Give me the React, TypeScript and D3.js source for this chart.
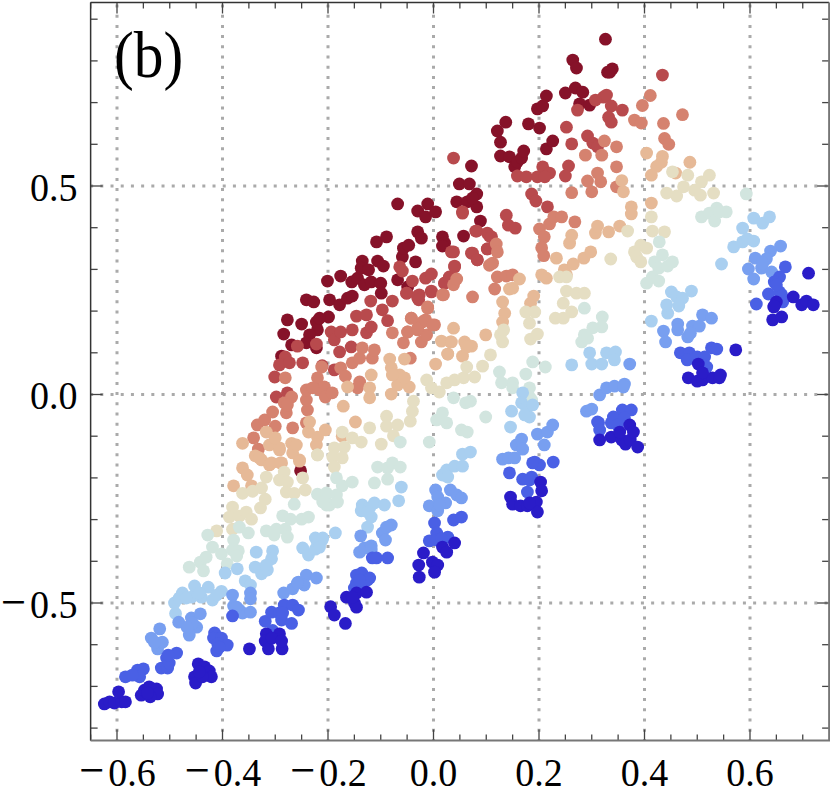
import React from "react";
import * as d3 from "d3";

type Chunk = [number[], number[]];

const darkRed: Chunk[] = [
  [[-0.252,-0.277,-0.250,-0.241,-0.227,-0.284,-0.269,-0.288,-0.222,-0.220,-0.235,-0.241,-0.222,-0.199,-0.216,-0.197,-0.178,-0.163,-0.154],
   [-0.183,0.179,0.169,0.227,0.222,0.145,0.119,0.092,0.174,0.155,0.143,0.124,0.112,0.186,0.183,0.227,0.215,0.231,0.236]],
  [[-0.201,-0.176,-0.155,-0.144,-0.131,-0.118,-0.100,-0.099,-0.135,-0.137,-0.123,-0.106,-0.095,-0.068,-0.049,-0.059,-0.057,-0.047,-0.034,-0.108,-0.089,-0.068,-0.030,-0.015,-0.011,0.004,-0.030,-0.023,0.017,0.021,0.017,0.057,0.089,0.082,0.044,0.049,0.068,0.082,0.064,0.074],
   [0.272,0.284,0.270,0.279,0.263,0.270,0.267,0.243,0.320,0.303,0.299,0.320,0.308,0.275,0.258,0.330,0.351,0.358,0.318,0.366,0.378,0.457,0.440,0.426,0.457,0.438,0.390,0.375,0.378,0.363,0.356,0.380,0.416,0.450,0.462,0.505,0.505,0.481,0.462,0.471]],
  [[0.072,0.127,0.121,0.127,0.137,0.144,0.154,0.159,0.167,0.171,0.180,0.201,0.214,0.226,0.197,0.207,0.214,0.250,0.269,0.283,0.277,0.296,0.264,0.271,0.330,0.339,0.326,0.334],
   [0.548,0.572,0.632,0.605,0.653,0.570,0.546,0.558,0.567,0.584,0.649,0.639,0.589,0.608,0.685,0.692,0.716,0.723,0.735,0.725,0.697,0.694,0.802,0.783,0.773,0.781,0.852,0.773]],
];

const red: Chunk[] = [
  [[-0.301,-0.298,-0.277,-0.281,-0.292,-0.273,-0.248,-0.211,-0.188,-0.258,-0.222,-0.194,-0.188,-0.176,-0.154,-0.178,-0.156,-0.127,-0.118,-0.146,-0.127,-0.119,-0.078,-0.097,-0.087,-0.030,-0.027,-0.004,0.021,-0.051],
   [0.042,-0.006,0.004,0.090,0.071,0.076,0.076,0.069,0.059,0.116,0.121,0.150,0.131,0.150,0.155,0.102,0.114,0.148,0.162,0.188,0.191,0.224,0.224,0.203,0.177,0.232,0.239,0.248,0.267,0.243]],
  [[-0.064,-0.059,-0.040,-0.051,-0.030,-0.028,-0.015,-0.004,-0.004,0.021,0.040,0.034,0.030,0.055,0.080,0.102,0.106,0.072,0.083],
   [0.306,0.296,0.272,0.243,0.236,0.227,0.279,0.289,0.246,0.267,0.308,0.342,0.282,0.438,0.392,0.349,0.380,0.339,0.323]],
  [[0.038,0.055,0.138,0.142,0.155,0.082,0.102,0.110,0.102,0.074,0.083,0.038,0.040,0.186,0.194,0.216,0.159,0.176,0.197,0.207,0.220,0.211,0.256,0.250,0.252,0.262,0.292,0.302,0.311,0.273,0.307,0.322,0.328,0.337,0.358,0.332,0.337,0.434],
   [0.567,0.435,0.430,0.406,0.399,0.392,0.387,0.378,0.349,0.339,0.323,0.342,0.306,0.481,0.464,0.450,0.524,0.522,0.522,0.546,0.531,0.522,0.548,0.524,0.641,0.601,0.620,0.603,0.594,0.682,0.706,0.713,0.718,0.692,0.682,0.665,0.653,0.766]],
];

const salmon: Chunk[] = [
  [[-0.334,-0.320,-0.305,-0.341,-0.332,-0.300,-0.267,-0.241,-0.279,-0.283,-0.269,-0.277,-0.239,-0.241,-0.241,-0.220,-0.216,-0.207,-0.205,-0.192,-0.229,-0.281],
   [-0.073,-0.061,-0.042,-0.104,-0.131,-0.076,-0.080,-0.068,-0.044,-0.020,-0.006,-0.025,-0.037,-0.013,0.011,0.040,0.011,0.018,-0.006,0.004,0.016,0.040]],
  [[-0.212,-0.176,-0.167,-0.140,-0.144,-0.154,-0.140,-0.135,-0.116,-0.112,-0.078,-0.057,-0.042,-0.049,-0.030,-0.021,-0.011,-0.023,-0.013,0.002,-0.044,0.019],
   [0.066,0.064,0.044,0.030,0.016,0.076,0.087,0.112,0.087,0.107,0.148,0.124,0.183,0.150,0.155,0.174,0.207,0.126,0.143,0.167,0.087,0.239]],
  [[-0.049,-0.030,-0.015,-0.002,-0.011,-0.042,0.017,0.038,0.044,0.074,0.116,0.106,0.112,0.121,0.138,0.119,0.121,0.150],
   [0.150,0.159,0.179,0.167,0.210,0.183,0.239,0.263,0.277,0.234,0.253,0.310,0.315,0.282,0.284,0.361,0.342,0.287]],
  [[0.201,0.210,0.205,0.209,0.220,0.228,0.243,0.268],
   [0.397,0.378,0.352,0.333,0.409,0.426,0.426,0.414]],
  [[0.262,0.292,0.300,0.317,0.311,0.319,0.288,0.324,0.347,0.347,0.347,0.381,0.394,0.396,0.411,0.436,0.438,0.446,0.472],
   [0.484,0.512,0.486,0.510,0.531,0.574,0.574,0.608,0.594,0.546,0.498,0.658,0.651,0.693,0.717,0.650,0.614,0.600,0.671]],
];

const tan: Chunk[] = [
  [[-0.379,-0.362,-0.353,-0.345,-0.326,-0.338,-0.311,-0.288,-0.254,-0.292,-0.267],
   [-0.219,-0.176,-0.193,-0.219,-0.157,-0.147,-0.169,-0.164,-0.157,-0.133,-0.140]],
  [[-0.362,-0.311,-0.292,-0.330,-0.307,-0.290,-0.269,-0.260,-0.254,-0.317,-0.300],
   [-0.117,-0.121,-0.128,-0.152,-0.164,-0.164,-0.117,-0.121,-0.160,-0.090,-0.104]],
  [[-0.220,-0.222,-0.205,-0.237,-0.235,-0.173,-0.148,-0.171],
   [-0.102,-0.121,-0.085,-0.090,-0.066,-0.100,-0.066,-0.028]],
  [[-0.163,-0.121,-0.121,-0.118,-0.080,-0.083,-0.055,-0.080,-0.064,-0.046,-0.068,-0.055,-0.078,0.004,0.015,0.032,0.027,0.038],
   [0.018,0.016,-0.008,0.047,0.001,0.085,0.085,0.064,0.047,0.018,0.023,0.040,0.047,0.073,0.128,0.126,0.097,0.159]],
  [[0.027,0.034,0.055,0.059,0.072,0.063,0.099],
   [0.097,0.126,0.092,0.126,0.116,0.114,0.143]],
  [[0.131,0.135,0.131,0.144,0.150,0.163,0.184,0.190],
   [0.222,0.195,0.174,0.253,0.255,0.277,0.219,0.236]],
  [[0.205,0.214,0.233,0.248,0.252,0.265,0.285,0.298,0.258,0.262,0.307,0.311,0.332,0.353],
   [0.287,0.279,0.327,0.299,0.287,0.313,0.327,0.342,0.363,0.382,0.387,0.404,0.390,0.404]],
  [[0.375,0.375,0.413,0.404,0.413,0.423,0.434,0.432,0.459,0.486,0.357,0.360],
   [0.450,0.433,0.459,0.579,0.526,0.547,0.571,0.557,0.531,0.557,0.513,0.486]],
];

const cream: Chunk[] = [
  [[-0.381,-0.387,-0.368,-0.355,-0.345,-0.328,-0.319,-0.362,-0.343,-0.326,-0.317,-0.283,-0.292,-0.277,-0.279,-0.264,-0.243,-0.248,-0.220,-0.411,-0.381],
   [-0.270,-0.294,-0.292,-0.282,-0.299,-0.272,-0.251,-0.237,-0.232,-0.224,-0.198,-0.186,-0.205,-0.210,-0.234,-0.237,-0.229,-0.200,-0.145,-0.327,-0.323]],
  [[-0.220,-0.188,-0.169,-0.191,-0.173,-0.188,-0.173,-0.154,-0.137,-0.099,-0.121,-0.089,-0.089,-0.068,-0.076,-0.044,-0.040,-0.038],
   [-0.145,-0.128,-0.126,-0.150,-0.152,-0.174,-0.090,-0.104,-0.114,-0.119,-0.080,-0.052,-0.076,-0.073,-0.099,-0.064,-0.040,-0.016]],
  [[-0.013,-0.004,0.011,0.025,0.040,0.057,0.063,0.078,0.093,0.108],
   [0.035,0.016,0.006,0.028,0.035,0.040,0.066,0.042,0.068,0.095]],
  [[0.127,0.133,0.131,0.175,0.192,0.182,0.184,0.197,0.239,0.252],
   [0.143,0.155,0.126,0.198,0.198,0.171,0.133,0.145,0.282,0.282]],
  [[0.252,0.271,0.286,0.246,0.262,0.231,0.246,0.336,0.368],
   [0.248,0.243,0.243,0.219,0.198,0.183,0.183,0.325,0.392]],
  [[0.413,0.415,0.438,0.393,0.404,0.381,0.385,0.393],
   [0.426,0.392,0.390,0.358,0.351,0.342,0.330,0.318]],
  [[0.495,0.506,0.531,0.508,0.523,0.482,0.453,0.474,0.461,0.442],
   [0.490,0.478,0.483,0.510,0.526,0.526,0.534,0.498,0.476,0.483]],
];

const paleGreen: Chunk[] = [
  [[-0.428,-0.419,-0.402,-0.463,-0.442,-0.431,-0.436,-0.391,-0.379,-0.368,-0.351,-0.381,-0.370,-0.373],
   [-0.337,-0.366,-0.382,-0.414,-0.402,-0.390,-0.423,-0.406,-0.349,-0.318,-0.332,-0.373,-0.375,-0.387]],
  [[-0.317,-0.298,-0.302,-0.281,-0.277,-0.286,-0.271,-0.250,-0.237,-0.264],
   [-0.327,-0.323,-0.337,-0.323,-0.342,-0.291,-0.299,-0.299,-0.294,-0.263]],
  [[-0.220,-0.203,-0.203,-0.184,-0.173,-0.154,-0.203,-0.184,-0.197,-0.182,-0.210],
   [-0.239,-0.236,-0.265,-0.200,-0.219,-0.210,-0.241,-0.241,-0.265,-0.258,-0.258]],
  [[-0.063,-0.112,-0.106,-0.087,-0.087,-0.078,-0.063],
   [-0.114,-0.212,-0.174,-0.176,-0.203,-0.164,-0.174]],
  [[-0.008,0.006,0.017,0.025,0.053,0.064,0.038,0.061,0.070,0.099],
   [-0.114,-0.061,-0.044,-0.068,-0.085,-0.090,-0.008,-0.020,-0.016,-0.054]],
  [[0.125,0.129,0.150,0.150,0.175,0.182,0.188,0.212,0.182,0.186],
   [0.054,0.028,0.028,0.016,0.049,0.016,0.078,0.066,-0.006,-0.013]],
  [[0.286,0.320,0.319,0.302,0.286,0.281,0.292],
   [0.207,0.186,0.162,0.160,0.143,0.126,0.135]],
  [[0.428,0.434,0.419,0.427,0.444,0.453,0.415,0.404,0.427],
   [0.366,0.335,0.318,0.303,0.308,0.318,0.282,0.267,0.272]],
  [[0.508,0.523,0.533,0.537,0.555,0.542,0.593],
   [0.426,0.435,0.416,0.447,0.438,0.438,0.481]],
];

const lightBlue: Chunk[] = [
  [[-0.489,-0.491,-0.476,-0.482,-0.453,-0.459,-0.440,-0.427,-0.419,-0.402,-0.411,-0.444,-0.469],
   [-0.525,-0.500,-0.476,-0.488,-0.459,-0.486,-0.486,-0.462,-0.493,-0.472,-0.481,-0.476,-0.488]],
  [[-0.395,-0.372,-0.357,-0.347,-0.338,-0.326,-0.315,-0.336,-0.305,-0.307,-0.317],
   [-0.428,-0.418,-0.447,-0.457,-0.414,-0.430,-0.421,-0.378,-0.375,-0.394,-0.409]],
  [[-0.248,-0.237,-0.224,-0.224,-0.210,-0.220],
   [-0.368,-0.385,-0.371,-0.344,-0.344,-0.356]],
  [[-0.186,-0.211,-0.216],[-0.332,-0.349,-0.366]],
  [[-0.061,-0.066,-0.125,-0.118,-0.135,-0.137,-0.121,-0.112,-0.093,-0.125],
   [-0.222,-0.255,-0.318,-0.294,-0.265,-0.279,-0.272,-0.260,-0.265,-0.282]],
  [[0.017,0.025,0.040,0.055,0.027,0.055,0.070],
   [-0.193,-0.181,-0.172,-0.172,-0.198,-0.143,-0.138]],
  [[0.169,0.148,0.146,0.167,0.176,0.188,0.182,0.173],
   [0.004,-0.040,-0.078,-0.020,-0.032,-0.025,-0.054,-0.049]],
  [[0.262,0.296,0.300,0.319,0.328,0.345,0.343],
   [0.071,0.100,0.073,0.073,0.100,0.102,0.083]],
  [[0.413,0.444,0.442,0.451,0.461,0.472,0.465,0.489],
   [0.176,0.195,0.215,0.246,0.234,0.231,0.212,0.248]],
  [[0.546,0.569,0.586,0.586,0.595,0.607,0.607,0.624,0.637],
   [0.313,0.354,0.399,0.366,0.373,0.368,0.423,0.411,0.426]],
];

const blue: Chunk[] = [
  [[-0.519,-0.535,-0.523,-0.523,-0.514,-0.529],
   [-0.562,-0.584,-0.596,-0.610,-0.594,-0.594]],
  [[-0.483,-0.459,-0.442,-0.449,-0.463,-0.457,-0.467],
   [-0.546,-0.536,-0.526,-0.558,-0.577,-0.548,-0.558]],
  [[-0.381,-0.347,-0.347,-0.379,-0.368,-0.362,-0.347,-0.373],
   [-0.481,-0.476,-0.490,-0.507,-0.517,-0.524,-0.522,-0.510]],
  [[-0.284,-0.267,-0.256,-0.241,-0.222,-0.245,-0.258],
   [-0.476,-0.466,-0.450,-0.433,-0.440,-0.457,-0.452]],
  [[-0.138,-0.140,-0.131,-0.118,-0.097,-0.080,-0.091,-0.089,-0.118],
   [-0.339,-0.378,-0.368,-0.363,-0.332,-0.313,-0.349,-0.318,-0.373]],
  [[0.004,0.008,-0.008,0.008,0.023,0.032,0.044,0.053,0.011],
   [-0.229,-0.246,-0.267,-0.279,-0.260,-0.229,-0.241,-0.248,-0.265]],
  [[0.131,0.142,0.154,0.157,0.167,0.169,0.197,0.216,0.226,0.210],
   [-0.155,-0.152,-0.152,-0.121,-0.107,-0.131,-0.095,-0.090,-0.073,-0.121]],
  [[0.315,0.328,0.343,0.362,0.290,0.300,0.372,0.360],
   [-0.001,0.016,0.020,0.025,-0.040,-0.035,0.073,0.018]],
  [[0.436,0.440,0.463,0.463,0.482,0.491,0.504,0.510,0.527,0.487],
   [0.152,0.126,0.169,0.155,0.138,0.164,0.164,0.191,0.183,0.147]],
  [[0.658,0.639,0.610,0.631,0.597,0.607,0.641,0.622,0.624],
   [0.356,0.344,0.327,0.325,0.301,0.277,0.294,0.303,0.315]],
];

const mediumBlue: Chunk[] = [
  [[-0.584,-0.561,-0.550,-0.557,-0.571],[-0.677,-0.661,-0.658,-0.677,-0.673]],
  [[-0.516,-0.504,-0.506,-0.487,-0.501,-0.503],
   [-0.656,-0.656,-0.632,-0.620,-0.644,-0.625]],
  [[-0.415,-0.417,-0.402,-0.391,-0.409,-0.411,-0.406],
   [-0.572,-0.584,-0.584,-0.601,-0.598,-0.615,-0.606]],
  [[-0.381,-0.319,-0.307,-0.292,-0.283,-0.267,-0.256,-0.288,-0.269,-0.305,-0.286],
   [-0.531,-0.544,-0.522,-0.524,-0.505,-0.505,-0.517,-0.541,-0.549,-0.566,-0.524]],
  [[-0.146,-0.136,-0.121,-0.146,-0.136,-0.125,-0.150,-0.140],
   [-0.433,-0.428,-0.440,-0.452,-0.462,-0.445,-0.464,-0.445]],
  [[-0.116,-0.108,-0.087],[-0.392,-0.392,-0.392]],
  [[0.002,0.006,-0.008,0.006,0.027,0.015,0.038,0.053],
   [-0.308,-0.332,-0.351,-0.349,-0.342,-0.346,-0.301,-0.294]],
  [[0.144,0.169,0.186,0.192,0.201,0.227,0.178,0.188,0.182],
   [-0.188,-0.203,-0.198,-0.162,-0.169,-0.162,-0.234,-0.164,-0.205]],
  [[0.313,0.311,0.315,0.337,0.341,0.358,0.375,0.362,0.349],
   [-0.068,-0.066,-0.085,-0.068,-0.054,-0.037,-0.037,-0.056,-0.073]],
  [[0.468,0.485,0.481,0.500,0.514,0.518,0.527,0.537],
   [0.100,0.100,0.083,0.090,0.090,0.066,0.112,0.109]],
  [[0.667,0.656,0.646,0.635,0.656,0.660,0.612,0.662,0.650],
   [0.306,0.282,0.270,0.241,0.246,0.239,0.217,0.222,0.263]],
];

const darkBlue: Chunk[] = [
  [[-0.624,-0.614,-0.605,-0.591,-0.597,-0.584],[-0.742,-0.737,-0.740,-0.737,-0.713,-0.737]],
  [[-0.554,-0.548,-0.539,-0.525,-0.523,-0.537,-0.542],[-0.721,-0.709,-0.701,-0.706,-0.718,-0.725,-0.716]],
  [[-0.446,-0.434,-0.425,-0.421,-0.453,-0.451,-0.438,-0.444],[-0.646,-0.653,-0.663,-0.677,-0.677,-0.692,-0.677,-0.665]],
  [[-0.349,-0.317,-0.292,-0.319,-0.313,-0.287,-0.306,-0.288],[-0.610,-0.574,-0.574,-0.591,-0.610,-0.610,-0.584,-0.591]],
  [[-0.195,-0.188,-0.167,-0.165,-0.146,-0.127,-0.150,-0.146,-0.154],[-0.509,-0.529,-0.549,-0.486,-0.476,-0.474,-0.500,-0.510,-0.486]],
  [[-0.019,-0.028,-0.027,-0.002,0.008,0.002,0.017,0.025,0.040],[-0.380,-0.409,-0.438,-0.402,-0.409,-0.426,-0.366,-0.378,-0.356]],
  [[0.146,0.150,0.165,0.178,0.195,0.197,0.203,0.205,0.182],[-0.246,-0.263,-0.267,-0.267,-0.258,-0.282,-0.210,-0.231,-0.260]],
  [[0.315,0.337,0.357,0.364,0.373,0.387,0.372,0.379,0.353],[-0.109,-0.102,-0.109,-0.119,-0.109,-0.126,-0.073,-0.090,-0.090]],
  [[0.483,0.500,0.510,0.529,0.542,0.544,0.502,0.510,0.573],[0.040,0.032,0.035,0.040,0.040,0.047,0.073,0.052,0.107]],
  [[0.711,0.682,0.698,0.707,0.720,0.643,0.660,0.645,0.650,0.646],[0.291,0.234,0.215,0.224,0.215,0.179,0.186,0.210,0.222,0.212]],
];

const seriesList = [darkRed, red, salmon, tan, cream, paleGreen, lightBlue, blue, mediumBlue, darkBlue];
const seriesColors = ["#861229", "#B84A4D", "#D5826F", "#E6B997", "#E5DEC3", "#D2E5DF", "#A9CFF0", "#789FF0", "#4A60E5", "#2A1CC8"];

const xLabelTicks = [-0.6, -0.4, -0.2, 0, 0.2, 0.4, 0.6];
const yLabelTicks = [-0.5, 0, 0.5];
const xMinorTicks = d3.range(-13, 15).map((i) => i * 0.05);
const yMinorTicks = d3.range(-8, 10).map((i) => i * 0.1);
const panelTag = "(b)";

const W = 830, H = 790;
const x = d3.scaleLinear().domain([-0.6, 0.6]).range([117, 750]);
const y = d3.scaleLinear().domain([-0.5, 0.5]).range([603, 186]);
const L = x(-0.65), R = x(0.75), T = 2.5, B = 740.5;
const serif = "'Liberation Serif', 'Times New Roman', serif";
const near = (a: number, list: number[]) => list.some((b) => Math.abs(a - b) < 1e-6);

function TickText({ v, px, py, anchor }: { v: number; px: number; py: number; anchor: "middle" | "end" }) {
  return (
    <text transform={`translate(${px},${py}) scale(0.95,1)`} textAnchor={anchor}>
      {v < -1e-9 ? <tspan fontSize={47}>{"\u2212"}</tspan> : null}
      {v < -1e-9 ? <tspan fontSize={20}>{"\u2009"}</tspan> : null}
      {Math.abs(v).toFixed(1)}
    </text>
  );
}

export default function App() {
  return (
    <svg width={W} height={H} viewBox={`0 0 ${W} ${H}`} style={{ position: "absolute", left: 0, top: 0, background: "#fff" }}>
      {xLabelTicks.map((t) => (
        <line key={`gx${t}`} x1={x(t)} x2={x(t)} y1={T + 2} y2={B} stroke="#aaa" strokeWidth={3} strokeDasharray="3 7.2" />
      ))}
      {yLabelTicks.map((t) => (
        <line key={`gy${t}`} x1={L} x2={R} y1={y(t)} y2={y(t)} stroke="#aaa" strokeWidth={3} strokeDasharray="3 7.2" strokeDashoffset={-9.7} />
      ))}
      {seriesList.map((chunks, si) =>
        chunks.map(([xs, ys], ci) =>
          xs.map((vx, i) => (
            <circle key={`${si}-${ci}-${i}`} cx={x(vx)} cy={y(ys[i])} r={6.4} fill={seriesColors[si]} />
          ))
        )
      )}
      <g stroke="#444" strokeWidth={1.3}>
        {xMinorTicks.map((t) => {
          const len = near(t, xLabelTicks) ? 11 : 6;
          return (
            <g key={`tx${t}`}>
              <line x1={x(t)} x2={x(t)} y1={B} y2={B - len} />
              <line x1={x(t)} x2={x(t)} y1={T} y2={T + len} />
            </g>
          );
        })}
        {yMinorTicks.map((t) => {
          const len = near(t, yLabelTicks) ? 12 : 7;
          return (
            <g key={`ty${t}`}>
              <line x1={L} x2={L + len} y1={y(t)} y2={y(t)} />
              <line x1={R} x2={R - len} y1={y(t)} y2={y(t)} />
            </g>
          );
        })}
      </g>
      <line x1={L} x2={L} y1={T} y2={B} stroke="#333" strokeWidth={1.5} />
      <line x1={L} x2={R} y1={T} y2={T} stroke="#333" strokeWidth={1.5} />
      <line x1={L} x2={R + 1} y1={B} y2={B} stroke="#777" strokeWidth={2} />
      <line x1={R} x2={R} y1={T} y2={B} stroke="#777" strokeWidth={2} />
      <g fontFamily={serif} fontSize={40} fill="#000">
        {xLabelTicks.map((t) => (
          <TickText key={`lx${t}`} v={t} px={x(t) + (t < 0 ? 0.5 : 0)} py={786} anchor="middle" />
        ))}
        {yLabelTicks.map((t) => (
          <TickText key={`ly${t}`} v={t} px={77.5} py={y(t) + 14.5} anchor="end" />
        ))}
      </g>
      <text transform="translate(114,77) scale(0.9,1)" fontFamily={serif} fontSize={66} fill="#000">{panelTag}</text>
    </svg>
  );
}
